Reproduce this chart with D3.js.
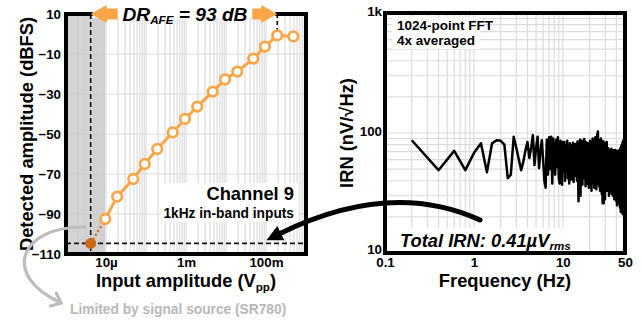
<!DOCTYPE html>
<html lang="en">
<head>
<meta charset="utf-8">
<title>AFE dynamic range and input-referred noise</title>
<script src="https://d3js.org/d3.v7.js"></script>
<style>
  body { margin: 0; background: #fff; }
  svg { display: block; }
</style>
</head>
<body>
<svg id="chart"></svg>
<script>
// ---- left panel: detected amplitude vs input amplitude (channel 9, 1 kHz)
const inputVpp = [9.6e-6, 19e-6, 48e-6, 93e-6, 191e-6, 465e-6, 944e-6, 1.91e-3,
                  4.65e-3, 9.44e-3, 19.1e-3, 48e-3, 94e-3, 191e-3, 481e-3];
const detectedDbfs = [-92.5, -81.3, -72.5, -65, -57.5, -49.2, -42.5, -36.3,
                      -28.8, -22.7, -18.8, -12.3, -6.3, -0.7, -1.2];
const floorVpp = 4.14e-6;      // smallest input the SR780 could give
const floorDbfs = -104.7;
const ampTicks = [1e-5, 1e-3, 1e-1];
const ampTickLabels = ["10µ", "1m", "100m"];
const dbTicks = [10, -10, -30, -50, -70, -90, -110];

// ---- right panel: IRN spectrum, one value per FFT bin (0.2 Hz bins)
const binHz = 0.2;
const irnValues = [
  87, 49, 71, 49, 68, 82, 47, 82, 87, 86,
  80, 42, 45, 93, 75, 60, 49, 58, 72, 84,
  62, 75, 96, 54, 75, 93, 51, 70, 87, 60,
  40, 35, 88, 45, 92, 50, 93, 38, 90, 62,
  45, 88, 52, 92, 42, 38, 86, 58, 37, 84,
  48, 84, 40, 79, 52, 86, 42, 70, 38, 82,
  55, 41, 80, 47, 83, 39, 74, 50, 81, 44,
  78, 40, 85, 52, 27, 76, 45, 88, 30, 72,
  48, 86, 37, 80, 55, 42, 89, 46, 78, 36,
  84, 50, 40, 75, 38, 82, 57, 35, 70, 45,
  86, 39, 79, 48, 33, 84, 52, 90, 38, 76,
  44, 88, 35, 81, 50, 92, 40, 72, 34, 85,
  56, 98, 38, 103, 62, 45, 88, 36, 80, 50,
  33, 84, 46, 90, 39, 74, 31, 86, 52, 26,
  80, 44, 85, 26, 70, 48, 83, 38, 28, 78,
  52, 82, 36, 68, 45, 84, 33, 72, 50, 40,
  75, 35, 70, 47, 30, 73, 52, 38, 71, 44,
  33, 70, 48, 36, 74, 42, 31, 68, 50, 35,
  72, 40, 30, 66, 46, 34, 71, 38, 28, 69,
  45, 33, 72, 50, 36, 65, 30, 70, 44, 27,
  68, 38, 25, 71, 46, 32, 66, 28, 62, 40,
  30, 70, 48, 26, 64, 35, 72, 42, 24, 66,
  38, 75, 30, 22, 70, 45, 78, 28, 62, 36,
  80, 24, 72, 42, 84, 21, 76, 34, 86, 26,
  82, 40, 88, 22, 85, 30, 84, 20, 86, 19
];
const freqTicks = [0.1, 1, 10, 50];
const freqTickLabels = ["0.1", "1", "10", "50"];
const irnTicks = [10, 100, 1000];
const irnTickLabels = ["10", "100", "1k"];

const W = 642, H = 320;
const orange = "#f9a548", darkOrange = "#cc6a16", gridCol = "#dcdcdc";

const svg = d3.select("#chart").attr("width", W).attr("height", H);

// the source figure uses a condensed bold face; fall back if Narrow is missing
const probeA = svg.append("text").attr("font-family", '"Liberation Sans Narrow", "Liberation Sans"')
  .attr("font-size", 20).attr("font-weight", "bold").text("Detected amplitude");
const probeB = svg.append("text").attr("font-family", '"Liberation Sans"')
  .attr("font-size", 20).attr("font-weight", "bold").text("Detected amplitude");
const narrowOk = probeA.node().getComputedTextLength() < 0.92 * probeB.node().getComputedTextLength();
probeA.remove(); probeB.remove();
const FONT = narrowOk ? '"Liberation Sans Narrow", "Arial Narrow", sans-serif' : '"Liberation Sans", Arial, sans-serif';
const fs = n => narrowOk ? n : n / 1.2;

const label = (g, x, y, size) => g.append("text").attr("x", x).attr("y", y)
  .attr("font-family", FONT).attr("font-weight", "bold").attr("font-size", fs(size));

// ================= left panel =================
const xL = d3.scaleLog().domain([1e-6, 1]).range([66, 306]);
const yL = d3.scaleLinear().domain([-110, 10]).range([254, 14]);
const left = svg.append("g");

left.append("g").selectAll("line").data(xL.ticks()).join("line")
  .attr("x1", d => xL(d)).attr("x2", d => xL(d))
  .attr("y1", yL.range()[1]).attr("y2", yL.range()[0])
  .attr("stroke", gridCol).attr("stroke-width", 1.2);
left.append("g").selectAll("line").data(dbTicks).join("line")
  .attr("x1", xL.range()[0]).attr("x2", xL.range()[1])
  .attr("y1", d => yL(d)).attr("y2", d => yL(d))
  .attr("stroke", gridCol).attr("stroke-width", 1.2);

// region below the signal-source limit
left.append("rect")
  .attr("x", xL(1e-6)).attr("y", yL(10))
  .attr("width", xL(1e-5) - xL(1e-6) - 1).attr("height", yL(-110) - yL(10))
  .attr("fill", "#c9c9c9").attr("opacity", 0.8);

// noise floor guides
left.append("line")
  .attr("x1", xL(floorVpp)).attr("x2", xL(floorVpp))
  .attr("y1", yL(10)).attr("y2", yL(-110))
  .attr("stroke", "#111").attr("stroke-width", 1.6).attr("stroke-dasharray", "5,3");
left.append("line")
  .attr("x1", xL.range()[0]).attr("x2", xL.range()[1])
  .attr("y1", yL(floorDbfs)).attr("y2", yL(floorDbfs))
  .attr("stroke", "#111").attr("stroke-width", 1.6).attr("stroke-dasharray", "5,3");
const topIdx = 13;
left.append("line")
  .attr("x1", xL(inputVpp[topIdx])).attr("x2", xL(inputVpp[topIdx]))
  .attr("y1", yL(10)).attr("y2", yL(detectedDbfs[topIdx]) - 5)
  .attr("stroke", "#111").attr("stroke-width", 1.6).attr("stroke-dasharray", "4,3");

const pts = inputVpp.map((v, i) => [v, detectedDbfs[i]]);
left.append("line")
  .attr("x1", xL(floorVpp)).attr("y1", yL(floorDbfs))
  .attr("x2", xL(inputVpp[0])).attr("y2", yL(detectedDbfs[0]))
  .attr("stroke", darkOrange).attr("stroke-width", 2.2).attr("stroke-dasharray", "2,2.5");
left.append("path").datum(pts)
  .attr("d", d3.line().x(d => xL(d[0])).y(d => yL(d[1])))
  .attr("fill", "none").attr("stroke", orange).attr("stroke-width", 3);
left.append("g").selectAll("circle").data(pts).join("circle")
  .attr("cx", d => xL(d[0])).attr("cy", d => yL(d[1])).attr("r", 4.8)
  .attr("fill", "#fff").attr("stroke", orange).attr("stroke-width", 2.7);
left.append("circle")
  .attr("cx", xL(floorVpp)).attr("cy", yL(floorDbfs)).attr("r", 5.5)
  .attr("fill", darkOrange);

left.append("rect")
  .attr("x", xL.range()[0]).attr("y", yL.range()[1])
  .attr("width", xL.range()[1] - xL.range()[0]).attr("height", yL.range()[0] - yL.range()[1])
  .attr("fill", "none").attr("stroke", "#000").attr("stroke-width", 4);

const axL = left.append("g").attr("transform", `translate(0,${yL.range()[0]})`)
  .call(d3.axisBottom(xL).tickValues(ampTicks).tickFormat((d, i) => ampTickLabels[i]).tickSize(0).tickPadding(4));
const ayL = left.append("g").attr("transform", `translate(${xL.range()[0]},0)`)
  .call(d3.axisLeft(yL).tickValues(dbTicks).tickFormat(d => d < 0 ? "\u2212" + Math.abs(d) : d).tickSize(0).tickPadding(5));
[axL, ayL].forEach(a => {
  a.select(".domain").remove();
  a.attr("font-family", FONT).attr("font-weight", "bold").attr("font-size", fs(16));
  a.selectAll("text").attr("fill", "#000");
});

const xt = label(left, 186, 287, 22).attr("text-anchor", "middle");
xt.append("tspan").text("Input amplitude (V");
xt.append("tspan").attr("font-size", fs(14)).attr("dy", 4).text("pp");
xt.append("tspan").attr("dy", -4).text(")");
label(left, 0, 0, 22).attr("text-anchor", "middle")
  .attr("transform", `translate(33,${(yL.range()[0] + yL.range()[1]) / 2}) rotate(-90)`)
  .text("Detected amplitude (dBFS)");

// dynamic range annotation on the top edge
const tipL = xL(floorVpp), tipR = xL(inputVpp[topIdx]), ay = yL(10);
left.append("rect").attr("x", tipL + 2).attr("y", 0).attr("width", tipR - tipL - 4).attr("height", ay + 4).attr("fill", "#fff");
const blockArrow = (tip, dir, len) => {
  const hl = 16, hh = 9, sh = 5.5;
  const p = [[0, 0], [hl, -hh], [hl, -sh], [len, -sh], [len, sh], [hl, sh], [hl, hh]];
  return p.map(q => [tip + dir * q[0], ay + q[1]]);
};
left.selectAll(".drArrow").data([blockArrow(tipL, 1, 27), blockArrow(tipR, -1, 25)]).join("polygon")
  .attr("points", d => d.map(q => q.join(",")).join(" ")).attr("fill", orange);
const dr = left.append("text").attr("x", (tipL + tipR) / 2 + 1).attr("y", 21)
  .attr("text-anchor", "middle").attr("font-family", FONT).attr("font-weight", "bold")
  .attr("font-style", "italic").attr("font-size", fs(23));
dr.append("tspan").text("DR");
dr.append("tspan").attr("font-size", fs(14)).attr("dy", 3).text("AFE");
dr.append("tspan").attr("dy", -3).text(" = 93 dB");

// channel label
left.append("rect").attr("x", 160).attr("y", 183).attr("width", 138).attr("height", 39).attr("fill", "#fff");
label(left, 294, 200, 22).attr("text-anchor", "end").text("Channel 9");
label(left, 294, 218, 16.5).attr("text-anchor", "end").text("1kHz in-band inputs");

// ================= right panel =================
const xR = d3.scaleLog().domain([0.1, 50]).range([385, 625]);
const yR = d3.scaleLog().domain([10, 1000]).range([253, 13]);
const right = svg.append("g");

right.append("g").selectAll("line").data(xR.ticks()).join("line")
  .attr("x1", d => xR(d)).attr("x2", d => xR(d))
  .attr("y1", yR.range()[1]).attr("y2", yR.range()[0])
  .attr("stroke", gridCol).attr("stroke-width", 1.2);
right.append("g").selectAll("line").data(yR.ticks()).join("line")
  .attr("x1", xR.range()[0]).attr("x2", xR.range()[1])
  .attr("y1", d => yR(d)).attr("y2", d => yR(d))
  .attr("stroke", gridCol).attr("stroke-width", 1.2);

right.append("rect").attr("x", 392).attr("y", 17).attr("width", 88).attr("height", 32).attr("fill", "#fff");
right.append("text").attr("x", 397).attr("y", 29.5)
  .attr("font-family", '"Liberation Sans", Arial, sans-serif').attr("font-weight", "bold").attr("font-size", 13.5)
  .text("1024-point FFT");
right.append("text").attr("x", 397).attr("y", 44.5)
  .attr("font-family", '"Liberation Sans", Arial, sans-serif').attr("font-weight", "bold").attr("font-size", 13.5)
  .text("4x averaged");
right.append("rect").attr("x", 396).attr("y", 228).attr("width", 180).attr("height", 23).attr("fill", "#fff");

right.append("path").datum(irnValues)
  .attr("d", d3.line().x((d, i) => xR((i + 1) * binHz)).y(d => yR(d)))
  .attr("fill", "none").attr("stroke", "#000").attr("stroke-width", 2.5).attr("stroke-linejoin", "round");

right.append("rect")
  .attr("x", xR.range()[0]).attr("y", yR.range()[1])
  .attr("width", xR.range()[1] - xR.range()[0]).attr("height", yR.range()[0] - yR.range()[1])
  .attr("fill", "none").attr("stroke", "#000").attr("stroke-width", 4);

const axR = right.append("g").attr("transform", `translate(0,${yR.range()[0]})`)
  .call(d3.axisBottom(xR).tickValues(freqTicks).tickFormat((d, i) => freqTickLabels[i]).tickSize(0).tickPadding(5));
const ayR = right.append("g").attr("transform", `translate(${xR.range()[0]},0)`)
  .call(d3.axisLeft(yR).tickValues(irnTicks).tickFormat((d, i) => irnTickLabels[i]).tickSize(0).tickPadding(3));
[axR, ayR].forEach(a => {
  a.select(".domain").remove();
  a.attr("font-family", FONT).attr("font-weight", "bold").attr("font-size", fs(16));
  a.selectAll("text").attr("fill", "#000");
});
ayR.selectAll("text").attr("dy", (d, i) => i === 0 ? "0.02em" : "0.2em");

label(right, 505, 287, 22).attr("text-anchor", "middle").text("Frequency (Hz)");
label(right, 0, 0, 22).attr("text-anchor", "middle")
  .attr("transform", `translate(353,${(yR.range()[0] + yR.range()[1]) / 2}) rotate(-90)`)
  .text("IRN (nV/\u221AHz)");

const tot = label(right, 400, 247, 22).attr("font-style", "italic");
tot.append("tspan").text("Total IRN: 0.41µV");
tot.append("tspan").attr("font-size", fs(14)).attr("dy", 3).text("rms");

// ================= annotation arrows =================
// grey: limited by the signal source
const gp = [[85, 227], [20, 226], [0, 275], [61, 303]];
svg.append("path")
  .attr("d", `M${gp[0]} C${gp[1]} ${gp[2]} ${gp[3]}`)
  .attr("fill", "none").attr("stroke", "#bdbdbd").attr("stroke-width", 3.2).attr("stroke-linecap", "round");
{
  const dx = gp[3][0] - gp[2][0], dy = gp[3][1] - gp[2][1];
  const a = Math.atan2(dy, dx), t = gp[3];
  const arm = s => [t[0] - 11 * Math.cos(a + s), t[1] - 11 * Math.sin(a + s)];
  svg.append("path").attr("d", `M${arm(0.7)} L${t} L${arm(-0.7)}`)
    .attr("fill", "none").attr("stroke", "#bdbdbd").attr("stroke-width", 3.2)
    .attr("stroke-linecap", "round").attr("stroke-linejoin", "round");
}
svg.append("text").attr("x", 70).attr("y", 314)
  .attr("font-family", FONT).attr("font-weight", "bold").attr("font-size", fs(16.5))
  .attr("fill", "#b8b8b8").text("Limited by signal source (SR780)");

// black: total IRN sets the noise floor
const bp = [[480, 220], [390, 179], [279, 234]];
svg.append("path").attr("d", `M${bp[0]} Q${bp[1]} ${bp[2]}`)
  .attr("fill", "none").attr("stroke", "#000").attr("stroke-width", 5).attr("stroke-linecap", "round");
{
  const dx = bp[2][0] - bp[1][0], dy = bp[2][1] - bp[1][1], n = Math.hypot(dx, dy);
  const ux = dx / n, uy = dy / n, L = 16, hw = 8;
  const tip = [bp[2][0] + ux * (L - 2), bp[2][1] + uy * (L - 2)];
  const base = [tip[0] - ux * L, tip[1] - uy * L];
  svg.append("polygon")
    .attr("points", [tip, [base[0] - uy * hw, base[1] + ux * hw], [base[0] + uy * hw, base[1] - ux * hw]].map(p => p.join(",")).join(" "))
    .attr("fill", "#000");
}
</script>
</body>
</html>
